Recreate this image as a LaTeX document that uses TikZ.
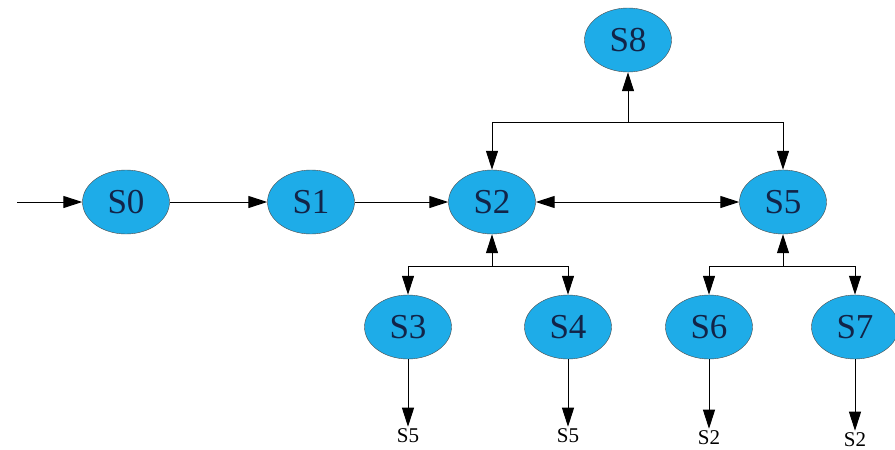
\documentclass[tikz,border=0pt]{standalone}
\usepackage{fontspec}
\setmainfont{Liberation Serif}
\usepackage{tikz}
\usetikzlibrary{shapes.geometric,arrows.meta}

\definecolor{stfill}{RGB}{30,172,232}
\definecolor{sttext}{RGB}{18,36,72}

\begin{document}
\begin{tikzpicture}[
    x=1pt, y=-1pt,
    state/.style={ellipse, draw=black!70, thin, fill=stfill, text=sttext, inner sep=0pt,
      minimum width=87pt, minimum height=64pt, font=\fontsize{35}{35}\selectfont},
    exit/.style={inner sep=2pt, font=\fontsize{21}{21}\selectfont},
    arrow/.style={-{Triangle[length=19pt,width=12pt]}, line width=1pt},
    twoway/.style={{Triangle[length=19pt,width=12pt]}-{Triangle[length=19pt,width=12pt]}, line width=1pt}
  ]
    \useasboundingbox (0,0) rectangle (895,450);

    \coordinate (start) at (17,202);
    \node[state] (s0) at (126,202) {S0};
    \node[state] (s1) at (311,202) {S1};
    \node[state] (s2) at (492,202) {S2};
    \node[state] (s5) at (783,202) {S5};
    \node[state] (s8) at (628,40) {S8};
    \node[state] (s3) at (408,327) {S3};
    \node[state] (s4) at (568,327) {S4};
    \node[state] (s6) at (709,327) {S6};
    \node[state] (s7) at (855,327) {S7};

    \node[exit] (x3) at (408,436) {S5};
    \node[exit] (x4) at (568,436) {S5};
    \node[exit] (x6) at (709,438) {S2};
    \node[exit] (x7) at (855,440) {S2};

    % branch points
    \coordinate (top) at (628,122);
    \coordinate (low2) at (s2.south |- 0,266);
    \coordinate (low5) at (s5.south |- 0,266);

    \draw[arrow] (start) -- (s0);
    \draw[arrow] (s0) -- (s1);
    \draw[arrow] (s1) -- (s2);
    \draw[twoway] (s2) -- (s5);

    \draw[arrow] (top) -- (s8);
    \draw[arrow] (top) -| (s2);
    \draw[arrow] (top) -| (s5);

    \draw[arrow] (low2) -- (s2);
    \draw[arrow] (low2) -| (s3);
    \draw[arrow] (low2) -| (s4);
    \draw[arrow] (low5) -- (s5);
    \draw[arrow] (low5) -| (s6);
    \draw[arrow] (low5) -| (s7);

    \draw[arrow] (s3) -- (x3);
    \draw[arrow] (s4) -- (x4);
    \draw[arrow] (s6) -- (x6);
    \draw[arrow] (s7) -- (x7);
  \end{tikzpicture}
\end{document}
